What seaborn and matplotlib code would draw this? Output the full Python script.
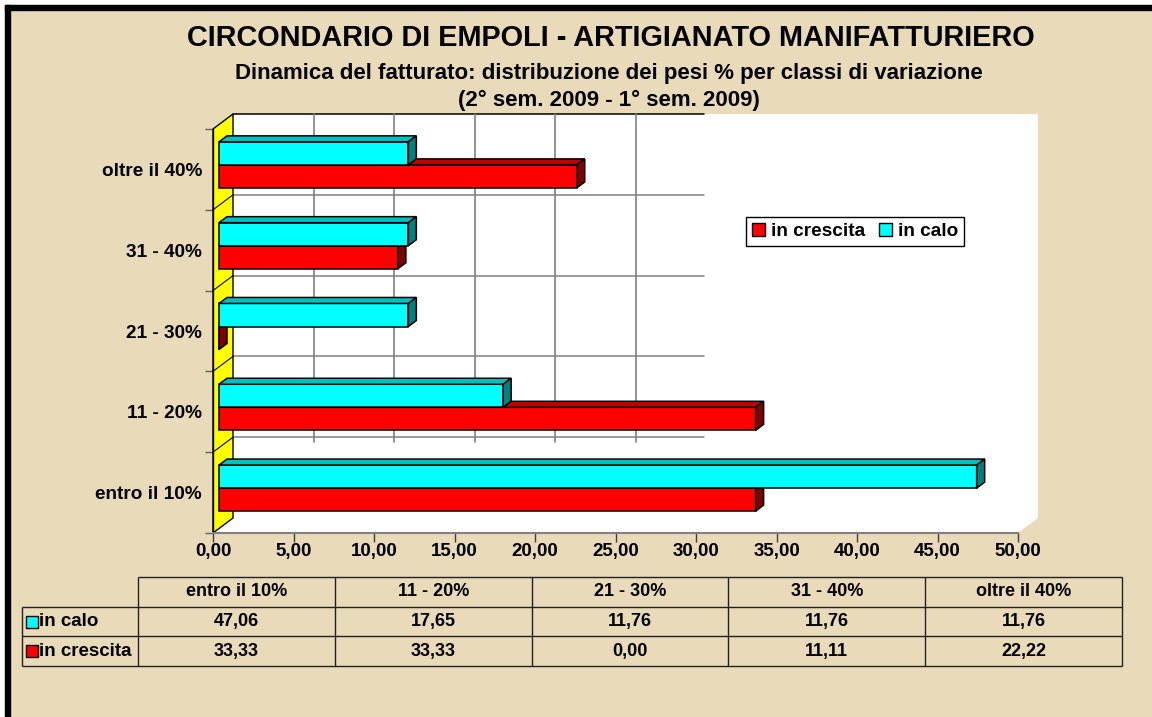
import numpy as np
import pandas as pd
import seaborn as sns
import matplotlib.pyplot as plt
from matplotlib.patches import Polygon, Rectangle, Patch
from matplotlib.ticker import FuncFormatter, MultipleLocator

# ---------- dati ----------
classi = ["entro il 10%", "11 - 20%", "21 - 30%", "31 - 40%", "oltre il 40%"]
in_calo = [47.06, 17.65, 11.76, 11.76, 11.76]
in_crescita = [33.33, 33.33, 0.00, 11.11, 22.22]
serie = ["in calo", "in crescita"]

colori = {"in calo": "#00FFFF", "in crescita": "#FF0000"}
ombra_top = {"in calo": "#00C0C0", "in crescita": "#C00000"}
ombra_lato = {"in calo": "#008080", "in crescita": "#800000"}

titolo = "CIRCONDARIO DI EMPOLI - ARTIGIANATO MANIFATTURIERO"
sottotitolo = "Dinamica del fatturato: distribuzione dei pesi % per classi di variazione"
periodo = "(2° sem. 2009 - 1° sem. 2009)"

W, H = 1152, 717


def fx(px):
    return px / W


def fy(py):
    return 1 - py / H


def virgola(v, _=None):
    return f"{v:.2f}".replace(".", ",")


sns.set_style("white")
plt.rcParams["font.family"] = ["Liberation Sans", "DejaVu Sans"]
plt.rcParams["font.weight"] = "bold"
plt.rcParams["text.color"] = "black"
plt.rcParams["xtick.color"] = "black"
plt.rcParams["ytick.color"] = "black"

fig = plt.figure(figsize=(W / 100, H / 100), dpi=100, facecolor="#E9DAB9")

# cornice (bianco + nero in alto e a sinistra)
fig.patches.extend([
    Rectangle((0, fy(5)), 1, 5 / H, transform=fig.transFigure, color="white", zorder=-5),
    Rectangle((0, 0), 5 / W, 1, transform=fig.transFigure, color="white", zorder=-5),
    Rectangle((fx(5), fy(10)), 1, 5 / H, transform=fig.transFigure, color="black", zorder=-4),
    Rectangle((fx(5), 0), 5 / W, fy(5), transform=fig.transFigure, color="black", zorder=-4),
])

# ---------- piano frontale ----------
L, R, T, B = 213, 1018, 129, 533
pos = [fx(L), fy(B), (R - L) / W, (B - T) / H]
ax = fig.add_axes(pos)
ax.set_xlim(0, 50)
ax.set_ylim(4.5, -0.5)
ax.patch.set_alpha(0)
ax.grid(False)

DX = 20 / ((R - L) / 50)   # profondita' in unita' x
DY = 15 / ((B - T) / 5)    # profondita' in unita' y

# pareti
ax.add_patch(Polygon([(DX, -0.5 - DY), (50 + DX, -0.5 - DY), (50 + DX, 4.5 - DY), (DX, 4.5 - DY)],
                     fc="white", ec="none", zorder=0, clip_on=False))
ax.add_patch(Polygon([(0, 4.5), (50, 4.5), (50 + DX, 4.5 - DY), (DX, 4.5 - DY)],
                     fc="white", ec="none", zorder=0, clip_on=False))
ax.add_patch(Polygon([(0, -0.5), (DX, -0.5 - DY), (DX, 4.5 - DY), (0, 4.5)],
                     fc="#FFFF00", ec="black", lw=1, zorder=1, clip_on=False))

# griglia sulla parete di fondo
GRID_FINE = 29.25
for i, yb in enumerate(np.arange(-0.5, 4, 1.0)):
    ax.plot([DX, DX + GRID_FINE], [yb - DY] * 2, color="black" if i == 0 else "#808080",
            lw=1.1, zorder=0.5, clip_on=False)
for xv in range(5, 30, 5):
    ax.plot([xv + DX] * 2, [-0.5 - DY, 3.5 - DY + 0.06], color="#808080",
            lw=1.2, zorder=0.5, clip_on=False)
for yb in np.arange(0.5, 4, 1.0):
    ax.plot([0, DX], [yb, yb - DY], color="black", lw=0.8, zorder=1.5, clip_on=False)

for s in ["top", "right"]:
    ax.spines[s].set_visible(False)
ax.spines["bottom"].set_color("#808080")
ax.spines["bottom"].set_linewidth(1.5)
ax.spines["left"].set_color("black")
ax.spines["left"].set_linewidth(1)

ax.xaxis.set_major_locator(MultipleLocator(5))
ax.xaxis.set_major_formatter(FuncFormatter(virgola))
ax.set_yticks(range(5))
ax.set_yticklabels(classi[::-1])
ax.set_yticks(np.arange(-0.5, 5, 1), minor=True)
ax.tick_params(axis="x", bottom=True, direction="out", length=6.5, width=1,
               color="#404040", labelcolor="black", labelsize=13.5, pad=1)
ax.tick_params(axis="y", which="major", left=True, length=0, labelsize=13.7,
               labelcolor="black", pad=8)
ax.tick_params(axis="y", which="minor", left=True, direction="out", length=5.8,
               width=1, color="#606060")
for lab in ax.get_xticklabels() + ax.get_yticklabels():
    lab.set_fontweight("bold")

# ---------- barre ----------
df = pd.DataFrame({
    "classe": classi * 2,
    "serie": ["in calo"] * 5 + ["in crescita"] * 5,
    "valore": in_calo + in_crescita,
})

bx = fig.add_axes(pos)
sns.barplot(data=df, x="valore", y="classe", hue="serie", order=classi[::-1],
            hue_order=serie, palette=colori, saturation=1, width=0.57,
            edgecolor="black", linewidth=1.1, errorbar=None, legend=False,
            orient="h", ax=bx)
bx.set_xlim(-0.3 * DX, 50 - 0.3 * DX)
bx.set_ylim(4.5 + 0.3 * DY, -0.5 + 0.3 * DY)
bx.axis("off")

ddx, ddy = 0.4 * DX, 0.4 * DY
for p in list(bx.patches):
    nome = "in calo" if p.get_facecolor()[2] > 0.5 else "in crescita"
    z = 3 if nome == "in calo" else 2
    x0, y0, w, h = p.get_x(), p.get_y(), p.get_width(), p.get_height()
    top = [(x0, y0), (x0 + w, y0), (x0 + w + ddx, y0 - ddy), (x0 + ddx, y0 - ddy)]
    side = [(x0 + w, y0), (x0 + w, y0 + h), (x0 + w + ddx, y0 + h - ddy), (x0 + w + ddx, y0 - ddy)]
    p.set_zorder(z)
    p.set_clip_on(False)
    bx.add_patch(Polygon(top, fc=ombra_top[nome], ec="black", lw=1.1, zorder=z, clip_on=False))
    bx.add_patch(Polygon(side, fc=ombra_lato[nome], ec="black", lw=1.1, zorder=z, clip_on=False))

# ---------- legenda ----------
fig.legend(handles=[Patch(fc=colori["in crescita"], ec="black", label="in crescita"),
                    Patch(fc=colori["in calo"], ec="black", label="in calo")],
           loc="upper left", bbox_to_anchor=(fx(746), fy(217)), bbox_transform=fig.transFigure,
           ncol=2, frameon=True, fancybox=False, edgecolor="black", framealpha=1,
           prop={"size": 13.7, "weight": "bold"}, handlelength=0.72, handleheight=0.72,
           handletextpad=0.3, columnspacing=0.7, borderpad=0.3, borderaxespad=0)

# ---------- titoli ----------
fig.text(fx(611), fy(38), titolo, ha="center", va="center", fontsize=20.8, fontweight="bold")
fig.text(fx(609), fy(74), sottotitolo, ha="center", va="center", fontsize=16, fontweight="bold")
fig.text(fx(609), fy(100), periodo, ha="center", va="center", fontsize=16, fontweight="bold")

# ---------- tabella dati ----------
TL, TR, TT, TB = 22, 1122, 577, 666
tx = fig.add_axes([fx(TL), fy(TB), (TR - TL) / W, (TB - TT) / H])
col_w = (TR - 138) / 5
lab_w = (138 - TL) / col_w
tx.set_xlim(-lab_w, 5)
tx.set_ylim(3, 0)
tx.axis("off")
lc = "#202020"
tx.hlines(0, 0, 5, color=lc, lw=1, clip_on=False)
tx.hlines([1, 2, 3], -lab_w, 5, color=lc, lw=1, clip_on=False)
tx.vlines(range(6), 0, 3, color=lc, lw=1, clip_on=False)
tx.vlines(-lab_w, 1, 3, color=lc, lw=1, clip_on=False)
for j, c in enumerate(classi):
    tx.text(j + 0.5, 0.5, c, ha="center", va="center", fontsize=13, fontweight="bold")
for i, (nome, valori) in enumerate([("in calo", in_calo), ("in crescita", in_crescita)]):
    tx.plot(-lab_w + 10 / col_w, i + 1.5, marker="s", ms=8, mfc=colori[nome], mec="black",
            mew=1, clip_on=False)
    tx.text(-lab_w + 17 / col_w, i + 1.5, nome, ha="left", va="center", fontsize=13.5,
            fontweight="bold")
    for j, v in enumerate(valori):
        tx.text(j + 0.5, i + 1.5, virgola(v), ha="center", va="center", fontsize=13,
                fontweight="bold")

fig.savefig("out.png", dpi=100, facecolor=fig.get_facecolor())
